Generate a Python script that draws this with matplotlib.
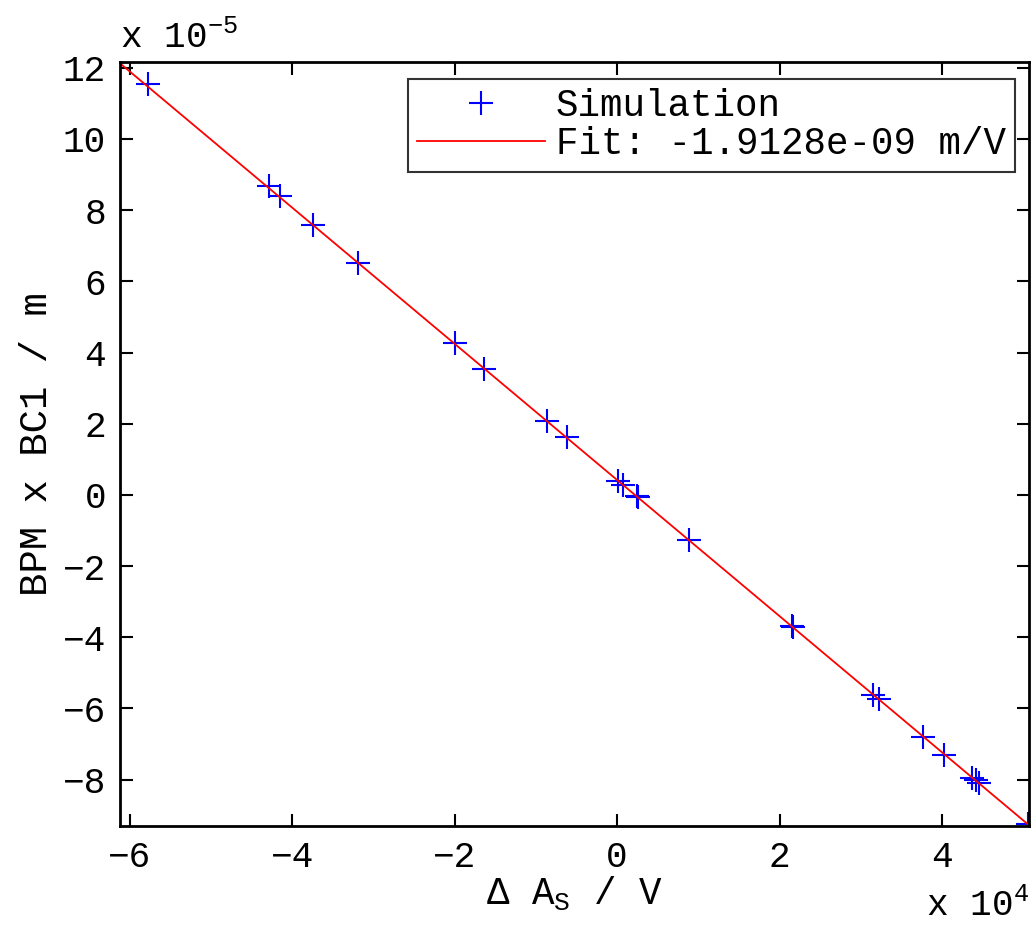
import numpy as np
import matplotlib
matplotlib.use('Agg')
import matplotlib.pyplot as plt

plt.rcParams['font.family'] = ['Liberation Mono', 'DejaVu Sans Mono']
plt.rcParams['mathtext.fontset'] = 'custom'
plt.rcParams['mathtext.rm'] = 'Liberation Mono'
plt.rcParams['mathtext.it'] = 'Liberation Mono'

# simulation points, x in 1e4 V, y in 1e-5 m
sim_x = [-5.78, -4.29, -4.15, -3.74, -3.19, -1.99, -1.64, -0.86, -0.62,
         0.01, 0.07, 0.24, 0.26, 0.89, 2.15, 2.17, 3.15, 3.22, 3.76, 4.02,
         4.37, 4.42, 4.45, 5.06]
sim_y = [11.54, 8.68, 8.40, 7.58, 6.52, 4.27, 3.54, 2.08, 1.63,
         0.39, 0.28, -0.04, -0.07, -1.26, -3.68, -3.71, -5.62, -5.73, -6.80, -7.30,
         -7.95, -8.01, -8.09, -9.25]
slope = -1.9128  # -1.9128e-9 m/V in plot units
intercept = 0.42
xlim = (-6.12, 5.07)

fig = plt.figure(figsize=(10.31, 9.27), dpi=100)
ax = fig.add_axes([0.1164, 0.109, 0.8816, 0.824])

fx = np.array(xlim)
ax.plot(sim_x, sim_y, '+', color='blue', markersize=17, markeredgewidth=1.5,
        label='Simulation')
ax.plot(fx, slope * fx + intercept, '-', color='red', linewidth=1.3,
        label='Fit: -1.9128e-09 m/V')

ax.set_xlim(xlim)
ax.set_ylim(-9.30, 12.16)
ax.set_xticks([-6, -4, -2, 0, 2, 4])
ax.set_yticks([-8, -6, -4, -2, 0, 2, 4, 6, 8, 10, 12])
ax.tick_params(direction='in', length=9, width=1.5, labelsize=26,
               top=True, right=True, pad=10)
for s in ax.spines.values():
    s.set_linewidth(2)

ax.set_xlabel(r'$\Delta$ A$_{\mathrm{S}}$ / V', fontsize=27, labelpad=0)
ax.set_ylabel('BPM x BC1 / m', fontsize=28, labelpad=6)

ax.text(0.0, 1.008, r'x 10$^{-5}$', transform=ax.transAxes, fontsize=26,
        ha='left', va='bottom')
ax.text(1.0, -0.082, r'x 10$^{4}$', transform=ax.transAxes, fontsize=26,
        ha='right', va='top')

leg = ax.legend(loc='upper right', bbox_to_anchor=(0.985, 0.978), fontsize=27,
                frameon=True, fancybox=False, edgecolor='black',
                handlelength=3.4, borderpad=0.25, labelspacing=0.05,
                handletextpad=0.3, borderaxespad=0)
leg.get_frame().set_linewidth(1.5)

fig.savefig('out.png', dpi=100)
